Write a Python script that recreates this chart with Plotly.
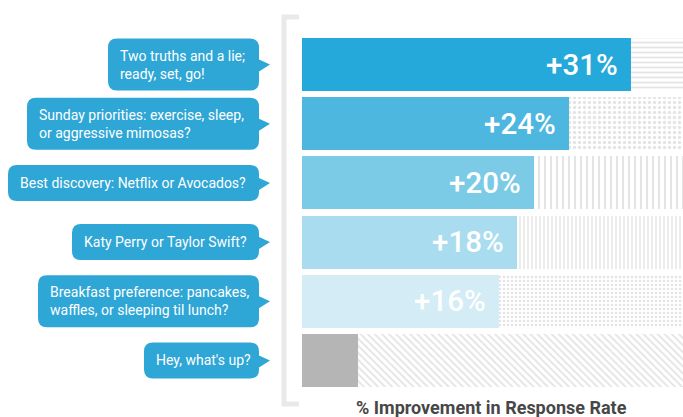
import plotly.graph_objects as go

# ---- data ----
questions = [
    "Two truths and a lie;<br>ready, set, go!",
    "Sunday priorities: exercise, sleep,<br>or aggressive mimosas?",
    "Best discovery: Netflix or Avocados?",
    "Katy Perry or Taylor Swift?",
    "Breakfast preference: pancakes,<br>waffles, or sleeping til lunch?",
    "Hey, what's up?",
]
improvement = [31, 24, 20, 18, 16, 0]
labels = ["+31%", "+24%", "+20%", "+18%", "+16%", ""]

# ---- style ----
W, H = 683, 417
XMIN, XMAX = -6.4, 36.9
bar_colors = ["#25a8da", "#4db7df", "#7bcbe7", "#a9dcef", "#d3ecf5", "#b5b5b5"]
patterns = ["-", ".", "|", "|", ".", "\\"]
pat_sizes = [5, 5, 6, 4, 4, 5]
bubble_left_px = [108, 27, 8, 72, 38, 144]
bubble_h_px = [52, 52, 36, 36, 52, 36]
BUBBLE_RIGHT = 259
BUBBLE_COLOR = "#2ea6d6"
ROW_PX = 59.2

rows = list(range(len(questions)))

fig = go.Figure()

# background (remainder) bars with patterns
fig.add_trace(go.Bar(
    y=rows, x=[XMAX - XMIN] * len(rows), base=[XMIN] * len(rows),
    orientation="h", width=0.895,
    marker=dict(color="#f5f5f5", line_width=0,
                pattern=dict(shape=patterns, size=pat_sizes, solidity=0.35,
                             fgcolor="#e4e4e4", fillmode="replace")),
    hoverinfo="skip", showlegend=False,
))
# value bars
fig.add_trace(go.Bar(
    y=rows, x=[v - XMIN for v in improvement], base=[XMIN] * len(rows),
    orientation="h", width=0.895,
    marker=dict(color=bar_colors, line_width=0),
    hoverinfo="skip", showlegend=False,
))

shapes = []
annotations = []
for i, q in enumerate(questions):
    # value label
    if labels[i]:
        annotations.append(dict(
            x=improvement[i], y=i, xref="x", yref="y", text=labels[i],
            showarrow=False, xanchor="right", yanchor="middle", xshift=-11,
            font=dict(family="Roboto", size=29.5, color="white", weight=500),
        ))
    # speech bubble
    l = bubble_left_px[i] / W
    r = BUBBLE_RIGHT / W
    tip = (BUBBLE_RIGHT + 11) / W
    rx = 9 / W
    hh = bubble_h_px[i] / 2 / ROW_PX
    ry = 9 / ROW_PX
    t, b = i - hh, i + hh  # reversed axis: t is top visually
    tail_a = i - 5 / ROW_PX
    tail_b = i + 7 / ROW_PX
    path = (f"M {l+rx},{t} L {r-rx},{t} Q {r},{t} {r},{t+ry} "
            f"L {r},{tail_a} L {tip},{i} L {r},{tail_b} "
            f"L {r},{b-ry} Q {r},{b} {r-rx},{b} L {l+rx},{b} Q {l},{b} {l},{b-ry} "
            f"L {l},{t+ry} Q {l},{t} {l+rx},{t} Z")
    shapes.append(dict(type="path", xref="paper", yref="y", path=path,
                       fillcolor=BUBBLE_COLOR, line_width=0, layer="above"))
    annotations.append(dict(
        x=(bubble_left_px[i] + 10) / W, y=i, xref="paper", yref="y", text=q,
        showarrow=False, xanchor="left", yanchor="middle", align="left",
        font=dict(family="Roboto", size=14, color="white"),
    ))

# bracket on the left of the bars
shapes.append(dict(type="path", xref="paper", yref="paper",
                   path=f"M {299/W},{1-17/H} L {284/W},{1-17/H} L {284/W},{1-404/H} L {299/W},{1-404/H}",
                   line=dict(color="#e9e9e9", width=5)))

annotations.append(dict(
    x=491 / W, y=1 - 407 / H, xref="paper", yref="paper",
    text="% Improvement in Response Rate", showarrow=False,
    xanchor="center", yanchor="middle",
    font=dict(family="Roboto", size=18, color="#474747", weight="bold"),
))

fig.update_layout(
    width=W, height=H, margin=dict(l=0, r=0, t=0, b=0),
    paper_bgcolor="white", plot_bgcolor="white",
    barmode="overlay", bargap=0,
    xaxis=dict(range=[XMIN, XMAX], domain=[302 / W, 1], visible=False, fixedrange=True),
    yaxis=dict(range=[5.5, -0.5], domain=[27 / H, 382 / H], visible=False, fixedrange=True),
    shapes=shapes, annotations=annotations,
    showlegend=False,
)

fig.write_html("out.html", config={"displayModeBar": False})
